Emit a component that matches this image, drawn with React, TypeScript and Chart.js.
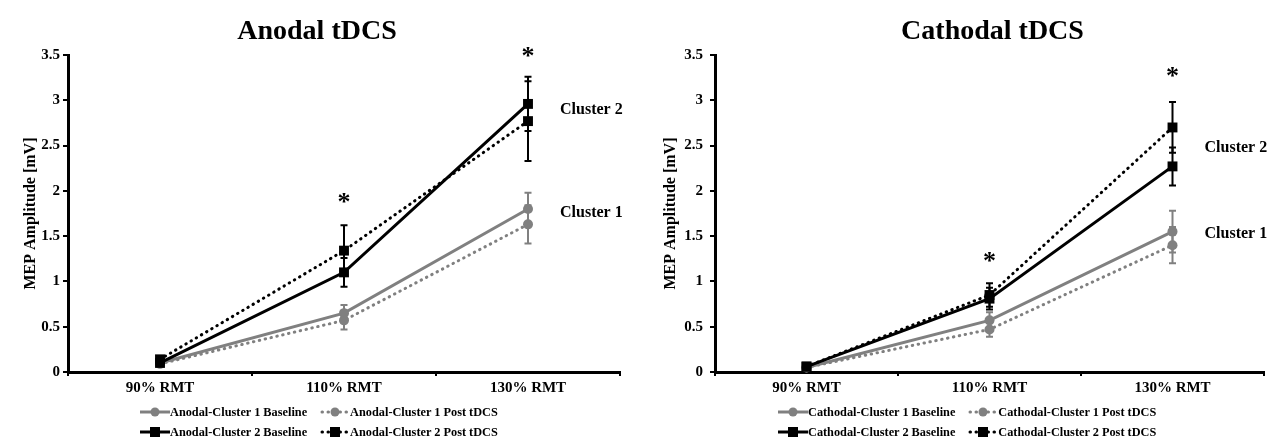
import React, { useEffect, useRef } from "react";
import { Chart, registerables } from "chart.js";

Chart.register(...registerables);

const FAMILY = '"Liberation Serif", "Times New Roman", serif';
const GRAY = "#808080";
const BLACK = "#000000";

// ---------- data ----------
const categories = ["90% RMT", "110% RMT", "130% RMT"];
const clusterNames = ["Cluster 2", "Cluster 1"];

const anodalC1Base = [0.1, 0.65, 1.8];
const anodalC1BaseErr = [0, 0.09, 0.18];
const anodalC1Post = [0.09, 0.57, 1.63];
const anodalC1PostErr = [0, 0.1, 0.21];
const anodalC2Base = [0.1, 1.1, 2.96];
const anodalC2BaseErr = [0, 0.16, 0.3];
const anodalC2Post = [0.14, 1.34, 2.77];
const anodalC2PostErr = [0, 0.28, 0.44];
const anodalStars = [null, 1.86, 3.48];
const anodalClusterLabelY = [2.89, 1.76];

const cathodalC1Base = [0.05, 0.57, 1.55];
const cathodalC1BaseErr = [0, 0.09, 0.23];
const cathodalC1Post = [0.05, 0.47, 1.4];
const cathodalC1PostErr = [0, 0.08, 0.2];
const cathodalC2Base = [0.06, 0.81, 2.27];
const cathodalC2BaseErr = [0, 0.12, 0.21];
const cathodalC2Post = [0.06, 0.85, 2.7];
const cathodalC2PostErr = [0, 0.13, 0.28];
const cathodalStars = [null, 1.21, 3.25];
const cathodalClusterLabelY = [2.48, 1.52];

// ---------- helpers ----------
function makeDataset(label: string, data: number[], errors: number[], color: string, dotted: boolean, style: string) {
  return {
    label,
    data,
    errors,
    borderColor: color,
    backgroundColor: color,
    borderWidth: 3,
    borderDash: dotted ? [0.5, 5.5] : [],
    borderCapStyle: dotted ? "round" : "butt",
    pointStyle: style,
    pointRadius: style === "rect" ? 7 : 5,
    pointBorderWidth: 0,
    pointBackgroundColor: color,
    tension: 0,
    clip: false,
  };
}

const errorBarPlugin = {
  id: "errorBars",
  afterDatasetsDraw(chart: any) {
    const { ctx } = chart;
    const y = chart.scales.y;
    chart.data.datasets.forEach((ds: any, i: number) => {
      const meta = chart.getDatasetMeta(i);
      const errs = ds.errors;
      if (!errs) return;
      meta.data.forEach((pt: any, j: number) => {
        const e = errs[j];
        if (!e) return;
        const v = ds.data[j];
        const x = pt.x;
        const yTop = y.getPixelForValue(v + e);
        const yBot = y.getPixelForValue(v - e);
        ctx.save();
        ctx.strokeStyle = ds.borderColor;
        ctx.lineWidth = 2;
        ctx.setLineDash([]);
        ctx.beginPath();
        ctx.moveTo(x, yTop);
        ctx.lineTo(x, yBot);
        ctx.moveTo(x - 3.5, yTop);
        ctx.lineTo(x + 3.5, yTop);
        ctx.moveTo(x - 3.5, yBot);
        ctx.lineTo(x + 3.5, yBot);
        ctx.stroke();
        ctx.restore();
      });
    });
  },
};

function makeAnnotPlugin(title: string, titleDx: number, stars: (number | null)[], clusterY: number[]) {
  return {
    id: "annot",
    afterDraw(chart: any) {
      const { ctx, chartArea } = chart;
      const x = chart.scales.x;
      const y = chart.scales.y;
      ctx.save();
      ctx.fillStyle = "#000";
      ctx.font = `bold 28px ${FAMILY}`;
      ctx.textAlign = "center";
      ctx.textBaseline = "alphabetic";
      ctx.fillText(title, (chartArea.left + chartArea.right) / 2 + titleDx, chartArea.top - 16);
      ctx.font = `bold 26px ${FAMILY}`;
      ctx.textBaseline = "middle";
      stars.forEach((v, i) => {
        if (v == null) return;
        ctx.fillText("*", x.getPixelForValue(i), y.getPixelForValue(v));
      });
      ctx.font = `bold 16px ${FAMILY}`;
      ctx.textAlign = "left";
      clusterNames.forEach((name, k) => {
        ctx.fillText(name, x.getPixelForValue(categories.length - 1) + 32, y.getPixelForValue(clusterY[k]));
      });
      ctx.restore();
    },
  };
}

function makeConfig(datasets: any[], opts: any) {
  return {
    type: "line",
    data: { labels: categories, datasets },
    options: {
      animation: false,
      responsive: false,
      layout: { padding: { left: 8, right: opts.padRight, top: 55, bottom: 40 } },
      plugins: {
        legend: { display: false },
        tooltip: { enabled: false },
        title: { display: false },
      },
      scales: {
        x: {
          type: "category",
          offset: true,
          grid: {
            display: true,
            offset: true,
            drawOnChartArea: false,
            drawTicks: true,
            tickLength: 4,
            color: "#000",
            lineWidth: 2,
          },
          border: { display: true, color: "#000", width: 3 },
          ticks: {
            color: "#000",
            font: { family: FAMILY, size: 15, weight: "bold" },
            padding: 3,
            maxRotation: 0,
          },
          afterFit: (s: any) => {
            s.height = 26;
          },
        },
        y: {
          min: 0,
          max: 3.5,
          ticks: {
            stepSize: 0.5,
            color: "#000",
            font: { family: FAMILY, size: 15, weight: "bold" },
            padding: opts.yTickPad,
            callback: (v: any) => String(Number(v)),
          },
          grid: {
            drawOnChartArea: false,
            drawTicks: true,
            tickLength: 5,
            color: "#000",
            lineWidth: 2,
          },
          border: { color: "#000", width: 3 },
          title: {
            display: true,
            text: "MEP Amplitude [mV]",
            color: "#000",
            font: { family: FAMILY, size: 16, weight: "bold" },
            padding: { top: 13, bottom: 0 },
          },
          afterFit: (s: any) => {
            s.width = opts.yAxisWidth;
          },
        },
      },
    },
    plugins: [errorBarPlugin, makeAnnotPlugin(opts.title, opts.titleDx, opts.stars, opts.clusterY)],
  };
}

function LegendIcon({ color, dotted, square }: { color: string; dotted: boolean; square: boolean }) {
  return (
    <svg width={30} height={14} style={{ display: "block", flex: "none" }}>
      <line
        x1={dotted ? 2 : 0}
        y1={7}
        x2={dotted ? 28 : 30}
        y2={7}
        stroke={color}
        strokeWidth={3}
        strokeDasharray={dotted ? "0.5 5.5" : undefined}
        strokeLinecap={dotted ? "round" : "butt"}
      />
      {square ? (
        <rect x={10} y={2} width={10} height={10} fill={color} />
      ) : (
        <circle cx={15} cy={7} r={4.5} fill={color} />
      )}
    </svg>
  );
}

function Legend({ prefix, left }: { prefix: string; left: number }) {
  const items = [
    { text: `${prefix}-Cluster 1 Baseline`, color: GRAY, dotted: false, square: false },
    { text: `${prefix}-Cluster 1 Post tDCS`, color: GRAY, dotted: true, square: false },
    { text: `${prefix}-Cluster 2 Baseline`, color: BLACK, dotted: false, square: true },
    { text: `${prefix}-Cluster 2 Post tDCS`, color: BLACK, dotted: true, square: true },
  ];
  return (
    <div
      style={{
        position: "absolute",
        left,
        top: 402,
        display: "grid",
        gridTemplateColumns: "auto auto",
        columnGap: 13,
        rowGap: 0,
      }}
    >
      {items.map((it) => (
        <div key={it.text} style={{ display: "flex", alignItems: "center", height: 20 }}>
          <LegendIcon color={it.color} dotted={it.dotted} square={it.square} />
          <span
            style={{
              fontFamily: FAMILY,
              fontWeight: "bold",
              fontSize: 12.3,
              color: "#000",
              whiteSpace: "nowrap",
              lineHeight: "20px",
            }}
          >
            {it.text}
          </span>
        </div>
      ))}
    </div>
  );
}

function Panel({ width, left, config, prefix, legendLeft }: any) {
  const ref = useRef<HTMLCanvasElement | null>(null);
  useEffect(() => {
    if (!ref.current) return;
    const chart = new Chart(ref.current, config);
    return () => chart.destroy();
  }, []);
  return (
    <div style={{ position: "absolute", left, top: 0, width, height: 438 }}>
      <canvas ref={ref} width={width} height={438} style={{ display: "block" }} />
      <Legend prefix={prefix} left={legendLeft} />
    </div>
  );
}

export default function App() {
  const anodalConfig = makeConfig(
    [
      makeDataset("Anodal-Cluster 2 Baseline", anodalC2Base, anodalC2BaseErr, BLACK, false, "rect"),
      makeDataset("Anodal-Cluster 2 Post tDCS", anodalC2Post, anodalC2PostErr, BLACK, true, "rect"),
      makeDataset("Anodal-Cluster 1 Baseline", anodalC1Base, anodalC1BaseErr, GRAY, false, "circle"),
      makeDataset("Anodal-Cluster 1 Post tDCS", anodalC1Post, anodalC1PostErr, GRAY, true, "circle"),
    ],
    {
      padRight: 20,
      yAxisWidth: 60,
      yTickPad: 3,
      title: "Anodal tDCS",
      titleDx: -27,
      stars: anodalStars,
      clusterY: anodalClusterLabelY,
    }
  );
  const cathodalConfig = makeConfig(
    [
      makeDataset("Cathodal-Cluster 2 Baseline", cathodalC2Base, cathodalC2BaseErr, BLACK, false, "rect"),
      makeDataset("Cathodal-Cluster 2 Post tDCS", cathodalC2Post, cathodalC2PostErr, BLACK, true, "rect"),
      makeDataset("Cathodal-Cluster 1 Baseline", cathodalC1Base, cathodalC1BaseErr, GRAY, false, "circle"),
      makeDataset("Cathodal-Cluster 1 Post tDCS", cathodalC1Post, cathodalC1PostErr, GRAY, true, "circle"),
    ],
    {
      padRight: 6,
      yAxisWidth: 67,
      yTickPad: 7,
      title: "Cathodal tDCS",
      titleDx: 3,
      stars: cathodalStars,
      clusterY: cathodalClusterLabelY,
    }
  );
  return (
    <div
      style={{
        position: "absolute",
        left: 0,
        top: 0,
        width: 1271,
        height: 438,
        overflow: "hidden",
        background: "#fff",
      }}
    >
      <Panel width={640} left={0} config={anodalConfig} prefix="Anodal" legendLeft={140} />
      <Panel width={631} left={640} config={cathodalConfig} prefix="Cathodal" legendLeft={138} />
    </div>
  );
}
